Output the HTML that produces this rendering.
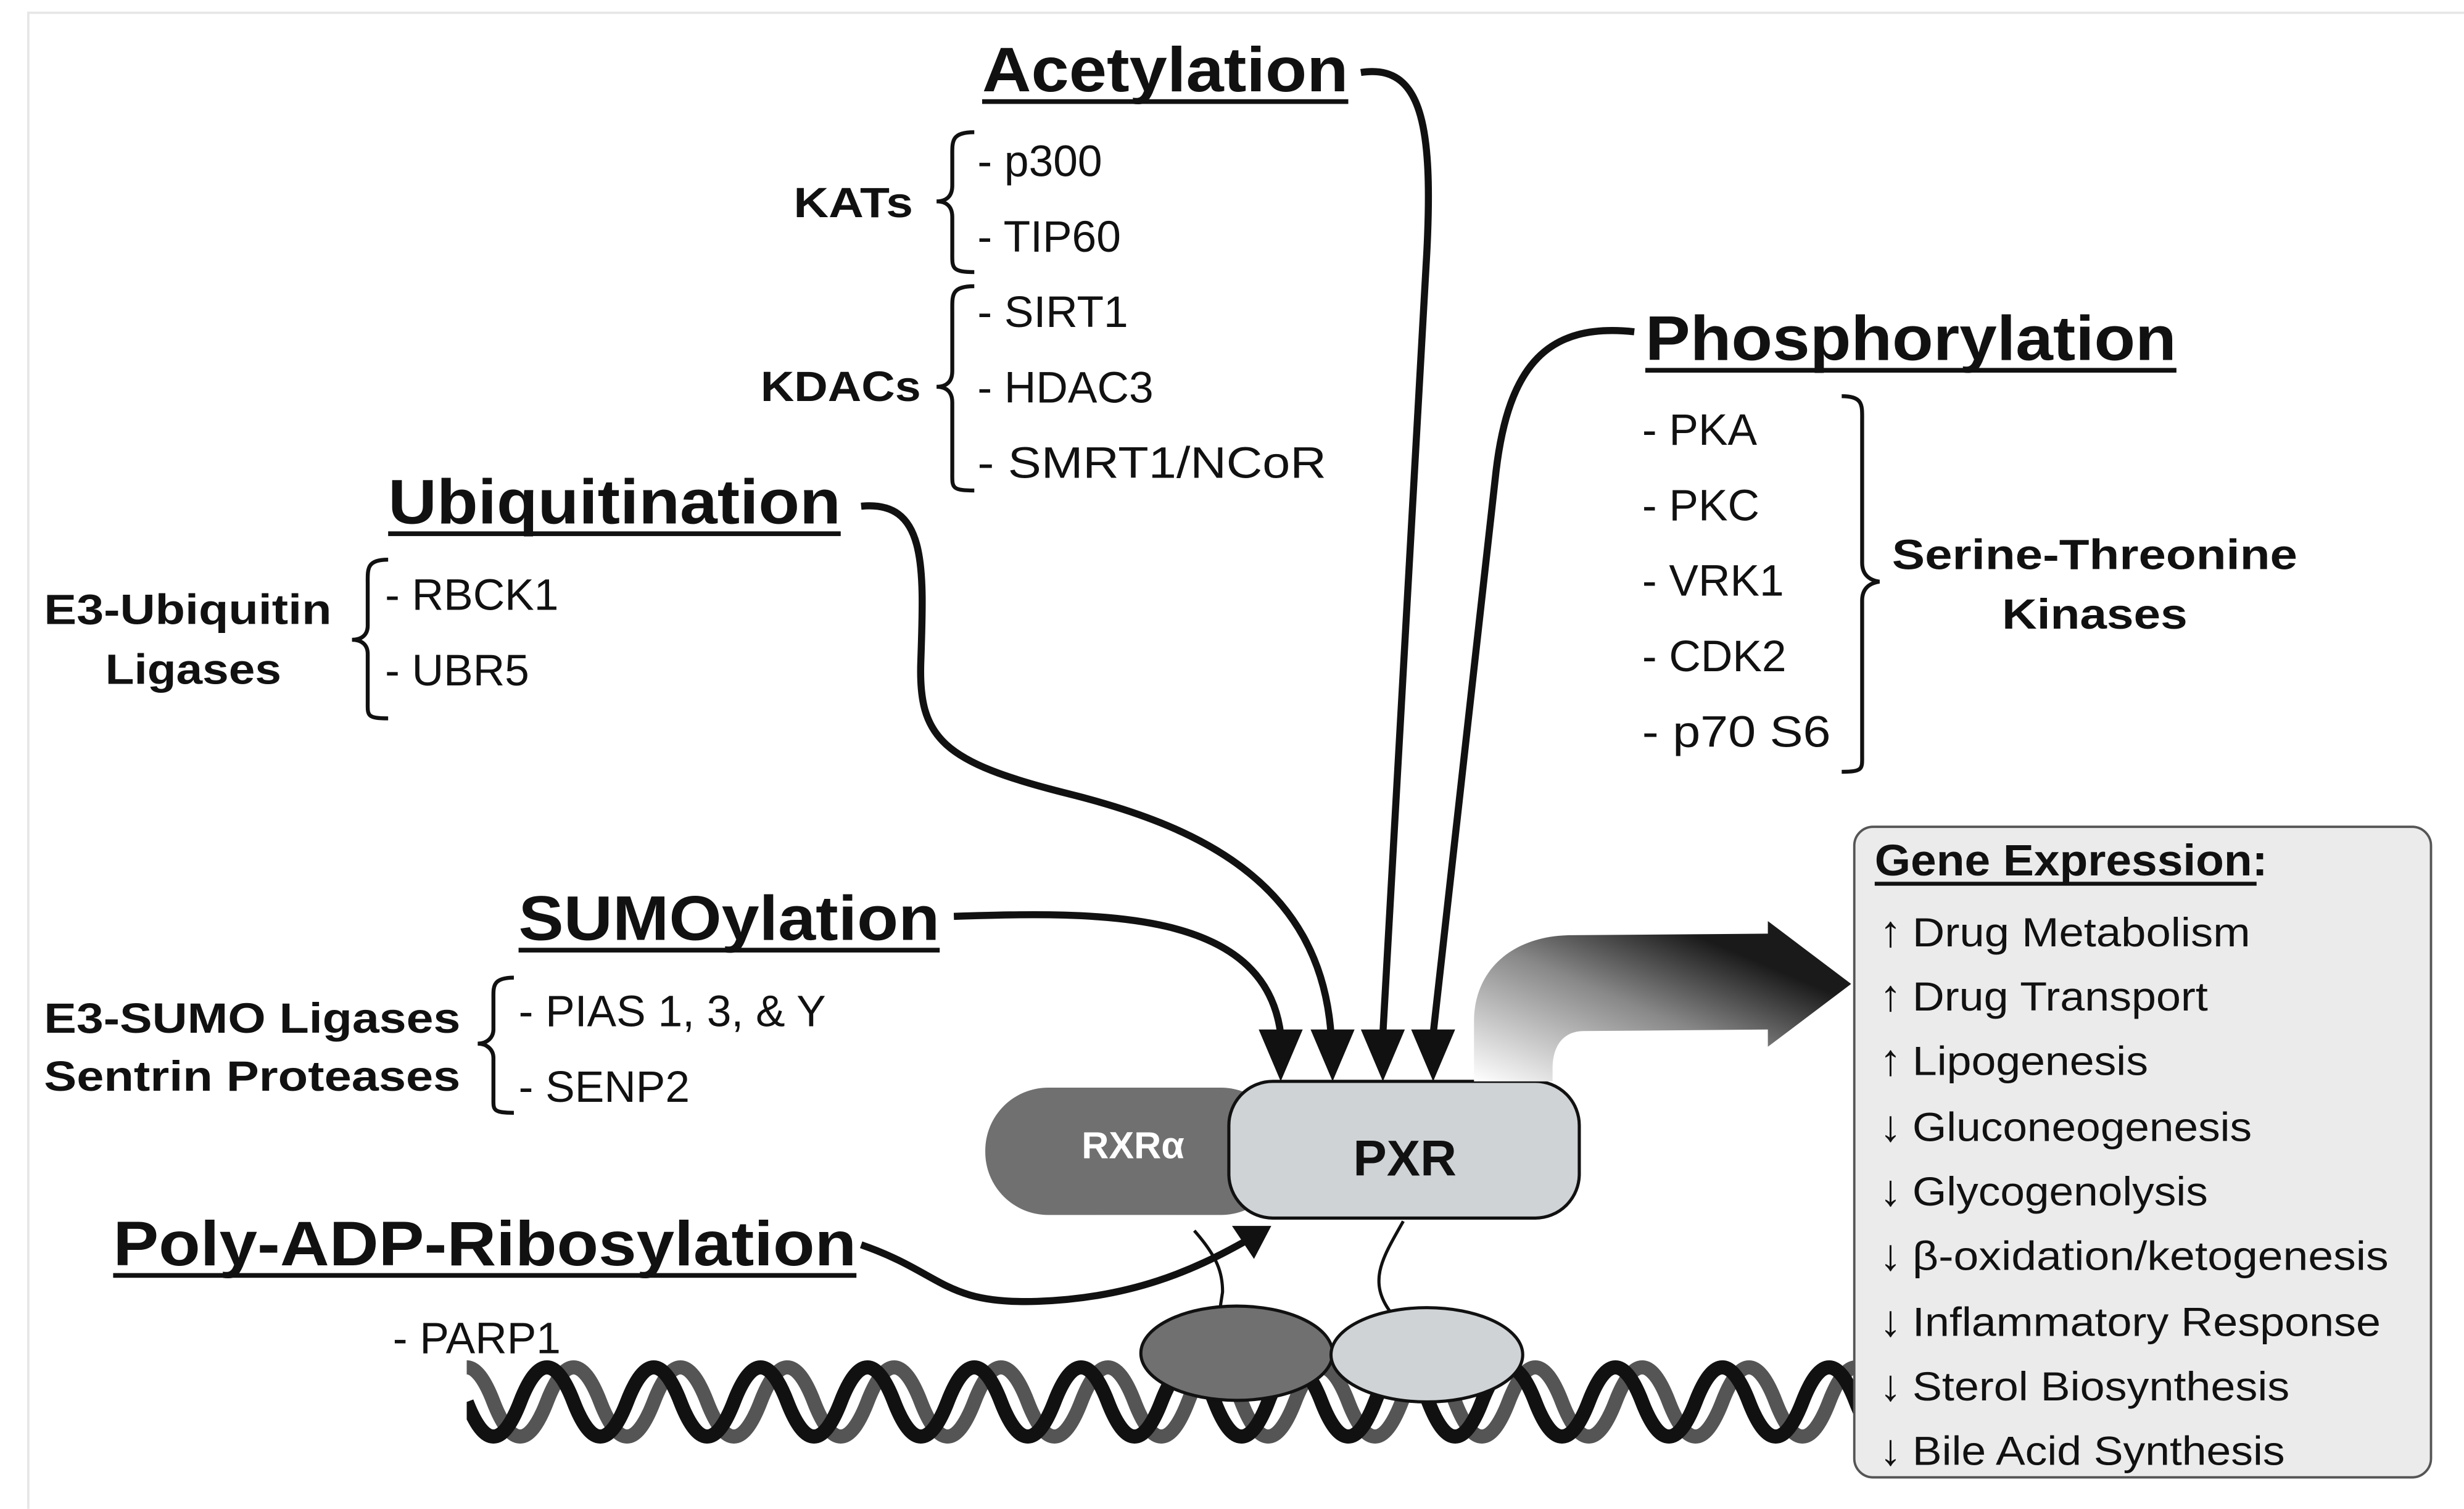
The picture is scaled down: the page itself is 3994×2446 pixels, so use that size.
<!DOCTYPE html>
<html><head><meta charset="utf-8"><style>
html,body{margin:0;padding:0;background:#fff;}
svg{display:block;}
text{font-family:"Liberation Sans",sans-serif;fill:#111;}
.t{font-weight:bold;font-size:40px;}
.i{font-size:28px;}
.l{font-weight:bold;font-size:27px;}
.g{font-size:26px;}
.a{font-size:28px;font-weight:bold;}
</style></head><body>
<svg width="3994" height="2446" viewBox="0 0 1568 960" xmlns="http://www.w3.org/2000/svg">
<defs>
<linearGradient id="fg" x1="0" y1="1" x2="1" y2="0">
<stop offset="0" stop-color="#fff"/><stop offset="0.45" stop-color="#888"/><stop offset="0.75" stop-color="#1a1a1a"/><stop offset="1" stop-color="#1a1a1a"/>
</linearGradient>
<clipPath id="dc"><rect x="297" y="860" width="885" height="70"/></clipPath>
</defs>
<rect x="0" y="0" width="1568" height="960" fill="#fff"/>
<path d="M18,960 L18,8 L1568,8" fill="none" stroke="#e6e6e6" stroke-width="1.5"/>

<text class="t" x="625" y="58" textLength="233" lengthAdjust="spacingAndGlyphs">Acetylation</text>
<rect x="625" y="63" width="233" height="3" fill="#111"/>
<text class="t" x="1047" y="229" textLength="338" lengthAdjust="spacingAndGlyphs">Phosphorylation</text>
<rect x="1047" y="234" width="338" height="3" fill="#111"/>
<text class="t" x="247" y="333" textLength="288" lengthAdjust="spacingAndGlyphs">Ubiquitination</text>
<rect x="247" y="338" width="288" height="3" fill="#111"/>
<text class="t" x="330" y="598" textLength="268" lengthAdjust="spacingAndGlyphs">SUMOylation</text>
<rect x="330" y="603" width="268" height="3" fill="#111"/>
<text class="t" x="72" y="805" textLength="473" lengthAdjust="spacingAndGlyphs">Poly-ADP-Ribosylation</text>
<rect x="72" y="810" width="473" height="3" fill="#111"/>

<g fill="none" stroke="#111" stroke-width="2.5">
<path d="M620,84 C605,84 606,90 606,100 L606,118 C606,125 602,128 596,128 C602,128 606,131 606,138 L606,160 C606,170 605,173 620,173"/>
<path d="M620,182 C605,182 606,188 606,198 L606,236 C606,243 602,246 596,246 C602,246 606,249 606,256 L606,300 C606,310 605,312 620,312"/>
<path d="M247,356 C233,356 234,362 234,372 L234,398 C234,404 230,407 224,407 C230,407 234,410 234,416 L234,446 C234,455 233,457 247,457"/>
<path d="M327,622 C313,622 314,628 314,636 L314,655 C314,660 310,664 304,664 C310,664 314,668 314,673 L314,698 C314,706 313,708 327,708"/>
<path d="M1172,252 C1186,252 1185,258 1185,268 L1185,358 C1185,365 1189,369 1196,370 C1189,371 1185,375 1185,382 L1185,480 C1185,489 1186,491 1172,491"/>
</g>
<text class="l" x="505" y="138" textLength="76" lengthAdjust="spacingAndGlyphs">KATs</text>
<text class="l" x="484" y="255" textLength="102" lengthAdjust="spacingAndGlyphs">KDACs</text>
<text class="i" x="622" y="112">- p300</text>
<text class="i" x="622" y="160">- TIP60</text>
<text class="i" x="622" y="208">- SIRT1</text>
<text class="i" x="622" y="256">- HDAC3</text>
<text class="i" x="622" y="304" textLength="222" lengthAdjust="spacingAndGlyphs">- SMRT1/NCoR</text>
<text class="l" x="28" y="397" textLength="183" lengthAdjust="spacingAndGlyphs">E3-Ubiquitin</text>
<text class="l" x="123" y="435" text-anchor="middle" textLength="112" lengthAdjust="spacingAndGlyphs">Ligases</text>
<text class="i" x="245" y="388">- RBCK1</text>
<text class="i" x="245" y="436">- UBR5</text>
<text class="l" x="28" y="657" textLength="265" lengthAdjust="spacingAndGlyphs">E3-SUMO Ligases</text>
<text class="l" x="28" y="694" textLength="265" lengthAdjust="spacingAndGlyphs">Sentrin Proteases</text>
<text class="i" x="330" y="653">- PIAS 1, 3, &amp; Y</text>
<text class="i" x="330" y="701">- SENP2</text>
<text class="i" x="250" y="861">- PARP1</text>
<text class="i" x="1045" y="283">- PKA</text>
<text class="i" x="1045" y="331">- PKC</text>
<text class="i" x="1045" y="379">- VRK1</text>
<text class="i" x="1045" y="427">- CDK2</text>
<text class="i" x="1045" y="475" textLength="120" lengthAdjust="spacingAndGlyphs">- p70 S6</text>
<text class="l" x="1333" y="362" text-anchor="middle" textLength="258" lengthAdjust="spacingAndGlyphs">Serine-Threonine</text>
<text class="l" x="1333" y="400" text-anchor="middle" textLength="118" lengthAdjust="spacingAndGlyphs">Kinases</text>

<g fill="none" stroke="#111" stroke-width="4.5">
<path d="M866,46 C905,40 912,80 908,160 L880,658"/>
<path d="M1040,211 C985,205 960,232 952,300 L912,658"/>
<path d="M548,322 C590,318 588,360 586,420 C584,470 600,485 680,505 C760,525 840,560 847,658"/>
<path d="M607,583 C700,580 805,578 815,658"/>
<path d="M548,792 C600,810 600,830 660,828 C720,826 760,808 792,790"/>
</g>
<g fill="#111">
<polygon points="801,655 829,655 815,688"/>
<polygon points="834,655 862,655 848,688"/>
<polygon points="866,655 894,655 880,688"/>
<polygon points="898,655 926,655 912,688"/>
<polygon points="809,780 784,780 798,801"/>
</g>

<g clip-path="url(#dc)" fill="none" stroke-width="9">
<path stroke="#555" d="M280,892 q17 -44 34 0 t34 0 t34 0 t34 0 t34 0 t34 0 t34 0 t34 0 t34 0 t34 0 t34 0 t34 0 t34 0 t34 0 t34 0 t34 0 t34 0 t34 0 t34 0 t34 0 t34 0 t34 0 t34 0 t34 0 t34 0 t34 0 t34 0 t34 0"/>
<path stroke="#111" d="M297,892 q17 44 34 0 t34 0 t34 0 t34 0 t34 0 t34 0 t34 0 t34 0 t34 0 t34 0 t34 0 t34 0 t34 0 t34 0 t34 0 t34 0 t34 0 t34 0 t34 0 t34 0 t34 0 t34 0 t34 0 t34 0 t34 0 t34 0 t34 0"/>
</g>

<g fill="none" stroke="#111" stroke-width="2">
<path d="M760,783 C775,800 778,810 778,822 L776,835"/>
<path d="M893,777 C880,800 870,815 885,835"/>
</g>
<ellipse cx="787" cy="861" rx="61" ry="30" fill="#707070" stroke="#111" stroke-width="2"/>
<ellipse cx="908" cy="862" rx="61" ry="30" fill="#cfd3d6" stroke="#111" stroke-width="2"/>

<rect x="627" y="692" width="190" height="81" rx="40" fill="#707070"/>
<text x="721" y="737" text-anchor="middle" style="font-weight:bold;font-size:24px;fill:#fff">RXRα</text>
<rect x="782" y="688" width="223" height="87" rx="28" fill="#cfd3d6" stroke="#111" stroke-width="2"/>
<text x="894" y="748" text-anchor="middle" style="font-weight:bold;font-size:32px">PXR</text>

<path d="M938,688 L938,650 C938,615 965,595 1000,595 L1125,594 L1125,586 L1178,626 L1125,666 L1125,655 L1008,656 C995,656 988,665 988,680 L988,688 Z" fill="url(#fg)"/>

<rect x="1180" y="526" width="367" height="414" rx="12" fill="#ebebeb" stroke="#555" stroke-width="1.5"/>
<text x="1193" y="557" style="font-weight:bold;font-size:28px" textLength="250" lengthAdjust="spacingAndGlyphs">Gene Expression:</text>
<rect x="1193" y="561" width="243" height="2.5" fill="#111"/>
<text class="a" x="1196" y="602">↑</text>
<text class="a" x="1196" y="643">↑</text>
<text class="a" x="1196" y="684">↑</text>
<text class="a" x="1196" y="726">↓</text>
<text class="a" x="1196" y="767">↓</text>
<text class="a" x="1196" y="808">↓</text>
<text class="a" x="1196" y="850">↓</text>
<text class="a" x="1196" y="891">↓</text>
<text class="a" x="1196" y="932">↓</text>
<text class="g" x="1217" y="602" textLength="215" lengthAdjust="spacingAndGlyphs">Drug Metabolism</text>
<text class="g" x="1217" y="643" textLength="188" lengthAdjust="spacingAndGlyphs">Drug Transport</text>
<text class="g" x="1217" y="684" textLength="150" lengthAdjust="spacingAndGlyphs">Lipogenesis</text>
<text class="g" x="1217" y="726" textLength="216" lengthAdjust="spacingAndGlyphs">Gluconeogenesis</text>
<text class="g" x="1217" y="767" textLength="188" lengthAdjust="spacingAndGlyphs">Glycogenolysis</text>
<text class="g" x="1217" y="808" textLength="303" lengthAdjust="spacingAndGlyphs">β-oxidation/ketogenesis</text>
<text class="g" x="1217" y="850" textLength="298" lengthAdjust="spacingAndGlyphs">Inflammatory Response</text>
<text class="g" x="1217" y="891" textLength="240" lengthAdjust="spacingAndGlyphs">Sterol Biosynthesis</text>
<text class="g" x="1217" y="932" textLength="237" lengthAdjust="spacingAndGlyphs">Bile Acid Synthesis</text>
</svg>
</body></html>
